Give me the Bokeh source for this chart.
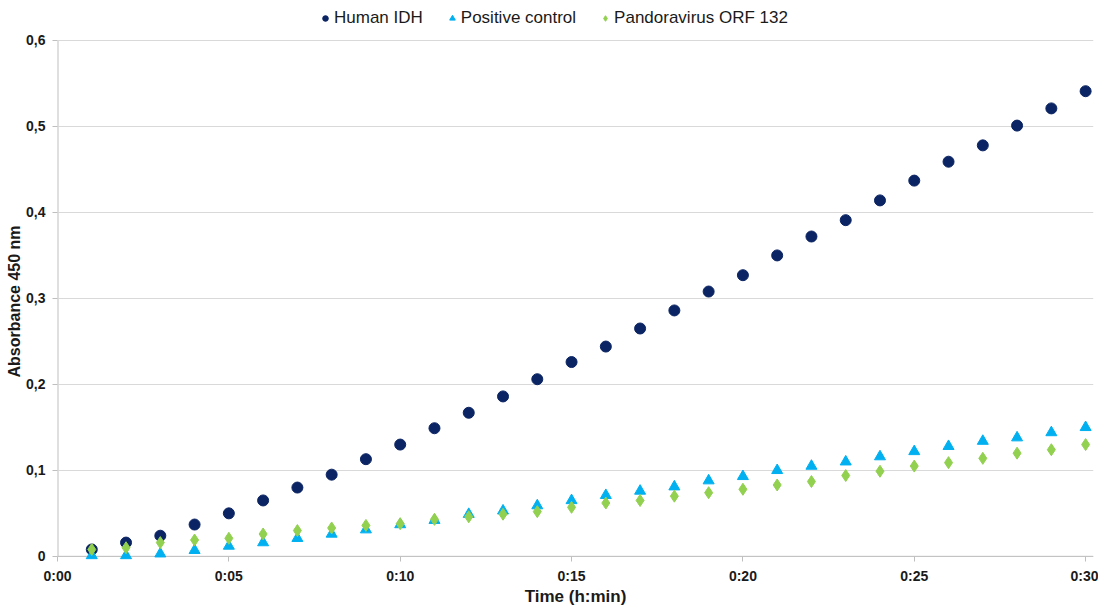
from bokeh.plotting import figure
from bokeh.models import Legend, LegendItem, FixedTicker, Span, Title
from bokeh.embed import file_html
from bokeh.resources import INLINE

minutes = list(range(1, 31))
human_idh = [0.008, 0.016, 0.024, 0.037, 0.050, 0.065, 0.080, 0.095, 0.113, 0.130,
             0.149, 0.167, 0.186, 0.206, 0.226, 0.244, 0.265, 0.286, 0.308, 0.327,
             0.350, 0.372, 0.391, 0.414, 0.437, 0.459, 0.478, 0.501, 0.521, 0.541]
positive_control = [0.001, 0.001, 0.003, 0.007, 0.012, 0.016, 0.021, 0.026, 0.031, 0.037,
                    0.042, 0.049, 0.053, 0.059, 0.065, 0.071, 0.076, 0.081, 0.088, 0.093,
                    0.100, 0.105, 0.110, 0.116, 0.122, 0.128, 0.134, 0.138, 0.144, 0.150]
pandoravirus = [0.008, 0.010, 0.016, 0.019, 0.021, 0.026, 0.030, 0.033, 0.036, 0.038,
                0.043, 0.046, 0.049, 0.052, 0.057, 0.062, 0.065, 0.070, 0.074, 0.078,
                0.083, 0.087, 0.094, 0.099, 0.105, 0.109, 0.114, 0.120, 0.124, 0.130]

x_ticks = [0, 5, 10, 15, 20, 25, 30]
x_tick_labels = ["0:00", "0:05", "0:10", "0:15", "0:20", "0:25", "0:30"]
y_ticks = [0, 0.1, 0.2, 0.3, 0.4, 0.5, 0.6]
y_tick_labels = ["0", "0,1", "0,2", "0,3", "0,4", "0,5", "0,6"]

FONT = "Liberation Sans"
GRAY = "#bfbfbf"
TEXT = "#1a1a1a"

# frame extends above the 0.6 line to host the legend at the top
p = figure(width=1098, frame_height=561, x_range=(0, 30.23), y_range=(-0.006, 0.6465),
           output_backend="svg", toolbar_location=None,
           min_border_left=57, min_border_right=5, min_border_top=0, min_border_bottom=0)
p.outline_line_color = None

p.xgrid.grid_line_color = None
p.ygrid.grid_line_color = "#d9d9d9"
p.ygrid.grid_line_width = 1
p.ygrid.level = "underlay"

zero_line = Span(location=0, dimension="width", line_color=GRAY, line_width=1, level="underlay")
p.add_layout(zero_line)
# vertical axis line from 0 up to the last tick
p.segment(x0=[x_ticks[0]], y0=[y_ticks[0]], x1=[x_ticks[0]], y1=[y_ticks[-1]],
          line_color=GRAY, line_width=2, level="underlay")

r1 = p.scatter(minutes, human_idh, marker="circle", size=11, color="#0b2463")
r2 = p.scatter(minutes, positive_control, marker="triangle", size=11, color="#00b0f0")
r3 = p.scatter(minutes, pandoravirus, marker="diamond", size=12, color="#92d050")

p.xaxis.ticker = FixedTicker(ticks=x_ticks)
p.xaxis.major_label_overrides = {t: l for t, l in zip(x_ticks, x_tick_labels)}
p.yaxis.ticker = FixedTicker(ticks=y_ticks)
p.yaxis.major_label_overrides = {t: l for t, l in zip(y_ticks, y_tick_labels)}

for ax in (p.xaxis, p.yaxis):
    ax.axis_line_color = None
    ax.major_tick_line_color = GRAY
    ax.minor_tick_line_color = None
    ax.major_label_text_font = FONT
    ax.major_label_text_font_style = "bold"
    ax.major_label_text_font_size = "14px"
    ax.major_label_text_color = TEXT
    ax.axis_label_text_font = FONT
    ax.axis_label_text_font_style = "bold"
    ax.axis_label_text_font_size = "17px"
    ax.axis_label_text_color = TEXT

p.xaxis.major_tick_in = 5
p.xaxis.major_tick_out = 0
p.yaxis.major_tick_in = 0
p.yaxis.major_tick_out = 5

p.xaxis.axis_label = "Time (h:min)"
p.xaxis.major_label_standoff = 6
p.xaxis.axis_label_standoff = 0
p.yaxis.major_label_standoff = 7

# y-axis title as a side title so it can be centred on the 0..0.6 span
ytitle = Title(text="Absorbance 450 nm", align="left", offset=184,
               text_font=FONT, text_font_style="bold", text_font_size="16px",
               text_color=TEXT, standoff=2)
p.add_layout(ytitle, "left")

legend = Legend(items=[LegendItem(label="Human IDH", renderers=[r1]),
                       LegendItem(label="Positive control", renderers=[r2]),
                       LegendItem(label="Pandoravirus ORF 132", renderers=[r3])],
                orientation="horizontal", location=(261, 533),
                label_text_font=FONT, label_text_font_size="17px",
                label_text_color=TEXT,
                glyph_width=14, glyph_height=18, label_standoff=2, spacing=22,
                padding=4, margin=0, border_line_color=None, background_fill_alpha=0)
p.add_layout(legend, "center")

open("out.html", "w").write(file_html(p, INLINE))
